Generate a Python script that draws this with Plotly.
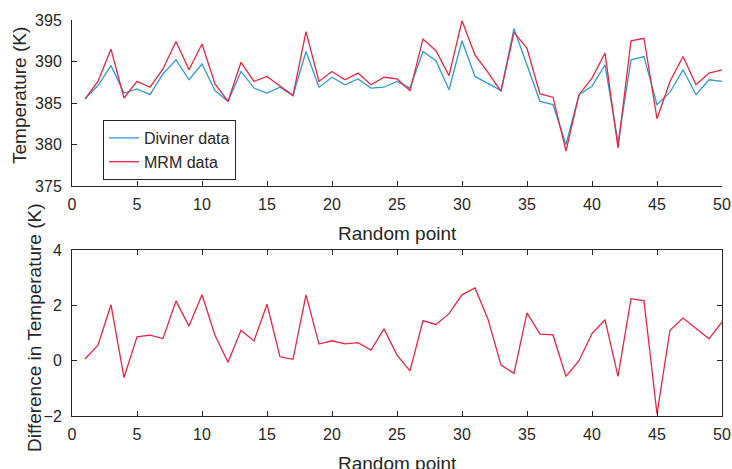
import plotly.graph_objects as go

points = list(range(1, 51))

diviner = [385.5, 387.1, 389.5, 386.2, 386.7, 386.0, 388.5, 390.2, 387.8, 389.7,
           386.5, 385.2, 388.8, 386.8, 386.2, 386.9, 385.9, 391.2, 386.9, 388.1,
           387.2, 387.9, 386.8, 386.9, 387.6, 386.8, 391.2, 390.1, 386.6, 392.5,
           388.2, 387.4, 386.5, 393.95, 389.7, 385.2, 384.8, 380.0, 386.0, 387.0,
           389.6, 380.2, 390.2, 390.6, 384.8, 386.3, 389.0, 386.0, 387.8, 387.6]

mrm = [385.5, 387.6, 391.5, 385.6, 387.6, 386.9, 389.1, 392.4, 389.0, 392.1,
       387.3, 385.2, 389.9, 387.6, 388.2, 387.1, 385.9, 393.6, 387.6, 388.8,
       387.8, 388.6, 387.2, 388.1, 387.9, 386.5, 392.7, 391.3, 388.3, 394.9,
       390.8, 388.7, 386.4, 393.5, 391.6, 386.1, 385.7, 379.2, 386.0, 388.0,
       391.0, 379.6, 392.5, 392.8, 383.1, 387.6, 390.6, 387.2, 388.6, 389.0]

difference = [0.06, 0.56, 2.02, -0.61, 0.86, 0.92, 0.80, 2.16, 1.25, 2.38,
              0.92, -0.06, 1.10, 0.71, 2.04, 0.14, 0.05, 2.38, 0.60, 0.72,
              0.61, 0.65, 0.38, 1.15, 0.20, -0.37, 1.45, 1.31, 1.70, 2.38,
              2.63, 1.50, -0.16, -0.46, 1.73, 0.96, 0.93, -0.57, 0.00, 0.98,
              1.48, -0.57, 2.24, 2.16, -1.92, 1.10, 1.54, 1.16, 0.79, 1.40]

W, H = 732, 469
BLUE = "#2E9BD4"
RED = "#EC2340"
AX = "#262626"
FONT = "Liberation Sans, Arial, sans-serif"

def px_x(p):
    return p / W

def px_y(p):
    return (H - p) / H

fig = go.Figure()
fig.add_trace(go.Scatter(x=points, y=diviner, mode="lines", name="Diviner data",
                         line=dict(color=BLUE, width=1.3), xaxis="x", yaxis="y"))
fig.add_trace(go.Scatter(x=points, y=mrm, mode="lines", name="MRM data",
                         line=dict(color=RED, width=1.3), xaxis="x", yaxis="y"))
fig.add_trace(go.Scatter(x=points, y=difference, mode="lines", showlegend=False,
                         line=dict(color=RED, width=1.3), xaxis="x2", yaxis="y2"))

axis_common = dict(showgrid=False, zeroline=False, showline=True, linecolor=AX,
                   linewidth=1, ticks="inside", ticklen=5, tickcolor=AX,
                   tickfont=dict(family=FONT, size=16, color=AX), automargin=False)

fig.update_layout(
    width=W, height=H,
    margin=dict(l=0, r=0, t=0, b=0),
    paper_bgcolor="white", plot_bgcolor="white",
    font=dict(family=FONT, color=AX),
    xaxis=dict(domain=[px_x(72), px_x(722)], range=[0, 50], dtick=5, tick0=0,
               anchor="y", ticklabelstandoff=4, **axis_common),
    yaxis=dict(domain=[px_y(186), px_y(20)], range=[375, 395], dtick=5, tick0=375,
               anchor="x", ticklabelstandoff=6, **axis_common),
    xaxis2=dict(domain=[px_x(72), px_x(722)], range=[0, 50], dtick=5, tick0=0,
                anchor="y2", mirror="ticks", ticklabelstandoff=4, **axis_common),
    yaxis2=dict(domain=[px_y(416), px_y(250)], range=[-2, 4], dtick=2, tick0=-2,
                anchor="x2", mirror="ticks", ticklabelstandoff=6, **axis_common),
    legend=dict(x=px_x(103), y=px_y(120), xanchor="left", yanchor="top",
                bgcolor="white", bordercolor=AX, borderwidth=1,
                font=dict(family=FONT, size=16, color=AX),
                tracegroupgap=0, itemwidth=30),
    showlegend=True,
)

title_font = dict(family=FONT, size=19, color=AX)
annotations = [
    dict(text="Temperature (K)", x=px_x(19), y=px_y(96), textangle=-90),
    dict(text="Difference in Temperature (K)", x=px_x(34), y=px_y(328), textangle=-90),
    dict(text="Random point", x=px_x(397), y=px_y(233), textangle=0),
    dict(text="Random point", x=px_x(397), y=px_y(463), textangle=0),
]
for a in annotations:
    fig.add_annotation(xref="paper", yref="paper", showarrow=False,
                       xanchor="center", yanchor="middle", font=title_font, **a)

fig.write_html("out.html")
